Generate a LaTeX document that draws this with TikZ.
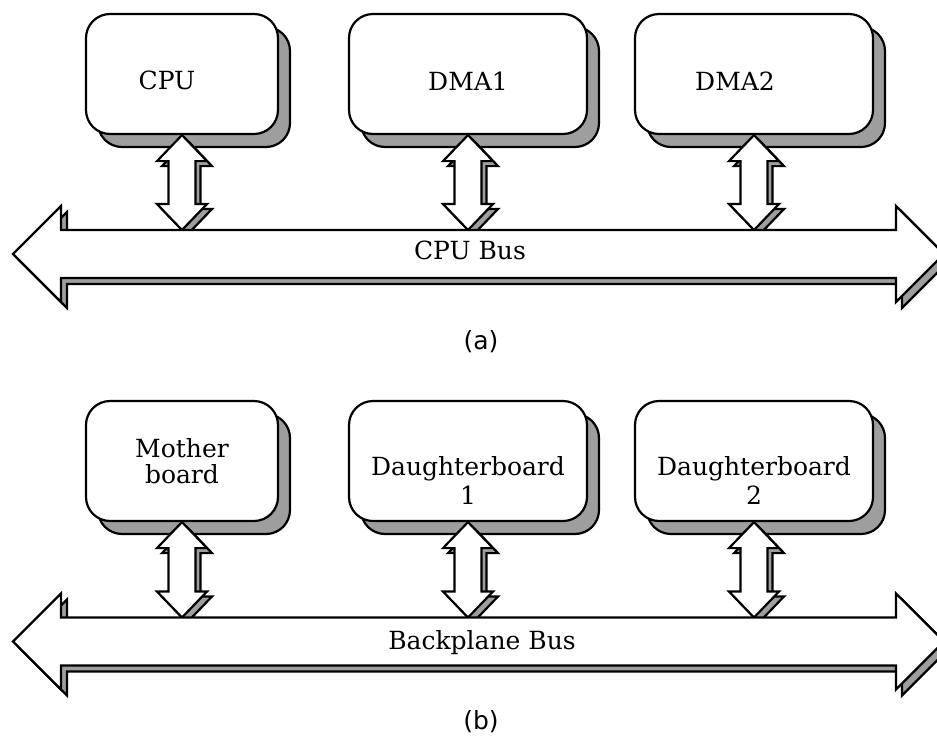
\documentclass[tikz,border=0pt]{standalone}
\usepackage{fontspec}
\setmainfont{DejaVu Serif}
\newfontfamily\capfont{DejaVu Sans}
\usetikzlibrary{positioning,shadows,calc}
\colorlet{hatch}{black!38}

\tikzset{
  board/.style={draw=black, line width=2.2pt, fill=white, rounded corners=24pt,
    minimum height=120pt, align=center, inner sep=0pt,
    font=\fontsize{25}{29}\selectfont,
    drop shadow={shadow xshift=12pt, shadow yshift=-13pt, fill=hatch,
      draw=black, opacity=1}},
  shortboard/.style={board, minimum width=192pt},
  longboard/.style={board, minimum width=238pt},
  castshade/.style={fill=hatch, draw=black, line width=2.2pt,
    transform canvas={xshift=#1, yshift=-#1}},
  face/.style={fill=white, draw=black, line width=2.2pt},
  buslabel/.style={font=\fontsize{25}{29}\selectfont},
  sublabel/.style={font=\capfont\fontsize{25}{29}\selectfont}
}

% two way block arrow, #1 upper tip, #2 lower tip
\newcommand\updownpath[2]{(#1) -- ++(25,26) -- ++(-11.5,0) -- ($(#2)+(13.5,-26)$)
      -- ++(11.5,0) -- (#2) -- ++(-25,-26) -- ++(11.5,0)
      -- ($(#1)+(-13.5,26)$) -- ++(-11.5,0) -- cycle}
\newcommand\updown[2]{%
  \draw[castshade=5pt] \updownpath{#1}{#2};
  \draw[face] \updownpath{#1}{#2};}

% bus arrow, #1 left tip, #2 right tip
\newcommand\buspath[2]{(#1) -- ++(48,-48) -- ++(0,24) -- ($(#2)+(-48,-24)$)
      -- ++(0,-24) -- (#2) -- ++(-48,48) -- ++(0,-24)
      -- ($(#1)+(48,24)$) -- ++(0,24) -- cycle}
\newcommand\busbar[2]{%
  \draw[castshade=6pt] \buspath{#1}{#2};
  \draw[face] \buspath{#1}{#2};}

\begin{document}
\begin{tikzpicture}[x=1pt, y=-1pt]
  \useasboundingbox (0,0) rectangle (937,740);
  \clip (0,0) rectangle (937,740);

  % (a)
  \node[shortboard] (cpu) at (182,74) {\rule{0pt}{32pt}CPU\hspace*{30pt}};
  \node[longboard] (dma1) at (468,74) {\rule{0pt}{32pt}DMA1};
  \node[longboard] (dma2) at (754,74) {\rule{0pt}{32pt}DMA2\hspace*{38pt}};

  \coordinate (cpubusL) at (13,254);
  \coordinate (cpubusR) at (944,254);
  \coordinate (cpubusT) at (0,230);
  \coordinate (cpuport) at (cpu.south |- cpubusT);
  \coordinate (dma1port) at (dma1.south |- cpubusT);
  \coordinate (dma2port) at (dma2.south |- cpubusT);

  \updown{cpu.south}{cpuport}
  \updown{dma1.south}{dma1port}
  \updown{dma2.south}{dma2port}
  \busbar{cpubusL}{cpubusR}
  \node[buslabel] (cpubus) at (470,250) {CPU Bus};
  \node[sublabel] (capa) at (481,342) {(a)};

  % (b)
  \node[shortboard] (mother) at (182,461) {Mother\\[-3pt]board};
  \node[longboard] (daughter1) at (468,461) {\rule{0pt}{57pt}Daughterboard\\1};
  \node[longboard] (daughter2) at (754,461) {\rule{0pt}{57pt}Daughterboard\\2};

  \coordinate (backbusL) at (13,641.5);
  \coordinate (backbusR) at (944,641.5);
  \coordinate (backbusT) at (0,617.5);
  \coordinate (motherport) at (mother.south |- backbusT);
  \coordinate (daughter1port) at (daughter1.south |- backbusT);
  \coordinate (daughter2port) at (daughter2.south |- backbusT);

  \updown{mother.south}{motherport}
  \updown{daughter1.south}{daughter1port}
  \updown{daughter2.south}{daughter2port}
  \busbar{backbusL}{backbusR}
  \node[buslabel] (backbus) at (482,643) {Backplane Bus};
  \node[sublabel] (capb) at (481,722) {(b)};
\end{tikzpicture}
\end{document}
